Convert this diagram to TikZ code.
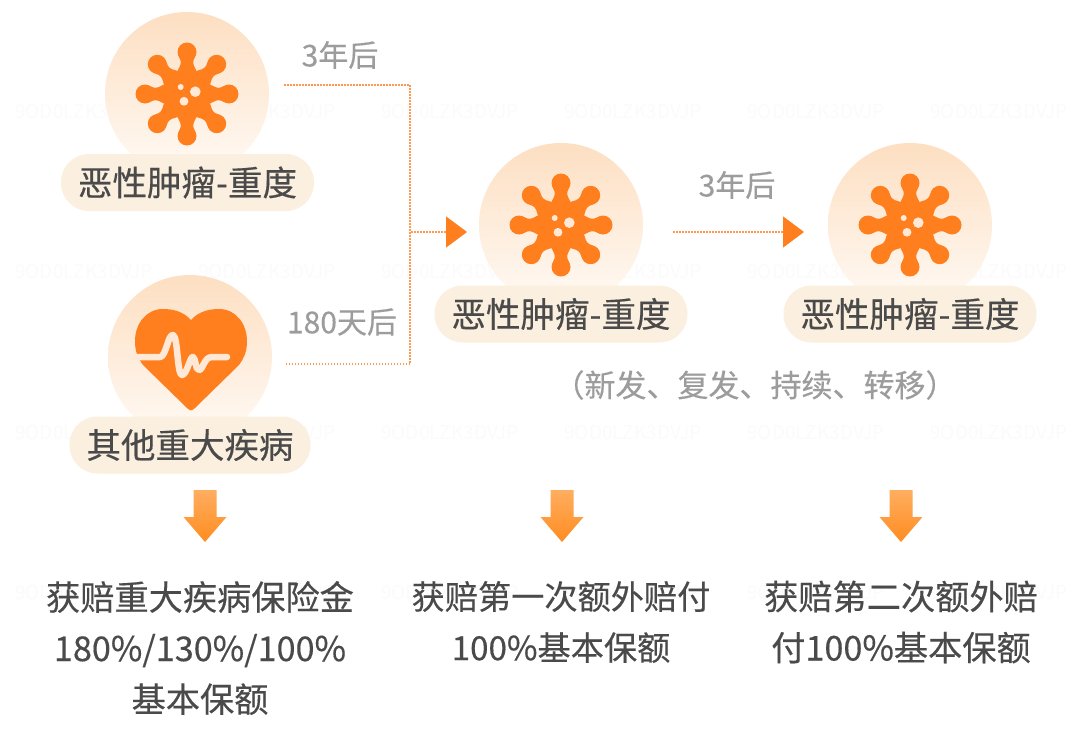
\documentclass[tikz,border=0pt]{standalone}
\usepackage{fontspec}
\setmainfont{Noto Sans CJK SC}[FakeBold=0.35]
\newfontfamily\wmfont{Noto Sans CJK SC}
\usetikzlibrary{arrows.meta}
\definecolor{orangeMain}{HTML}{FF7F1E}
\definecolor{flowLine}{HTML}{FF9A55}
\definecolor{discTop}{HTML}{FDDFC2}
\definecolor{discBot}{HTML}{FFFAF5}
\definecolor{pillFill}{HTML}{FBEFDF}
\definecolor{holeFill}{HTML}{FFE9D6}
\definecolor{textDark}{HTML}{4A4A4A}
\definecolor{textGrey}{HTML}{9C9C9C}
\definecolor{markGrey}{HTML}{FBFBFB}
\definecolor{arrowTop}{HTML}{FFAE60}
\definecolor{arrowBot}{HTML}{FF8C20}
\tikzset{
  x=1pt,y=-1pt,
  disc/.style={circle,minimum size=164pt,inner sep=0pt,top color=discTop,bottom color=discBot,shading angle=0},
  pill/.style={rectangle,rounded corners=28pt,minimum height=57pt,fill=pillFill,text=textDark,font=\fontsize{34.5}{34.5}\selectfont,inner sep=0pt},
  timelabel/.style={text=textGrey,font=\fontsize{30}{30}\selectfont,inner sep=0pt},
  result/.style={text=textDark,align=center,font=\fontsize{34.2}{51}\selectfont,inner sep=0pt},
  flow/.style={draw=flowLine,line width=1.5pt,dash pattern=on 1.5pt off 1.5pt},
  flowtip/.style={-{Triangle[length=21pt,width=31pt,color=orangeMain,fill=orangeMain,sep=0pt]}},
  wmark/.style={text=markGrey,font=\wmfont\fontsize{19}{19}\selectfont,inner sep=0pt},
  pics/virus/.style={code={
    \fill[orangeMain] (0,0) circle (23);
    \foreach \a in {0,45,...,315}{
      \begin{scope}[rotate=\a]
        \fill[orangeMain] (14,-12) .. controls (24,-11) and (27,-6.2) .. (31,-6.2)
          .. controls (33,-6.2) and (34,-6.5) .. (37,-8) -- (37,8)
          .. controls (34,6.5) and (33,6.2) .. (31,6.2)
          .. controls (27,6.2) and (24,11) .. (14,12) -- cycle;
        \fill[orangeMain] (42,0) circle (9.5);
      \end{scope}
    }
    \fill[holeFill] (-6.3,-7) circle (3);
    \fill[holeFill] (8.3,-2.3) circle (5.3);
    \fill[holeFill] (-3,7.3) circle (4.4);
  }},
  pics/bigarrow/.style={code={
    \shade[top color=arrowTop,bottom color=arrowBot] (-11.5,0) -- (11.5,0) -- (11.5,27) -- (21.5,27) -- (0,52) -- (-21.5,27) -- (-11.5,27) -- cycle;
  }},
}
\begin{document}
\begin{tikzpicture}
\useasboundingbox (0,0) rectangle (1080,731);
\fill[white] (0,0) rectangle (1080,731);
% faint watermark
\foreach \wy in {112,272,433,593}{
  \foreach \wx in {84,267,450,633,816,999}{
    \node[wmark] (wm\wx-\wy) at (\wx,\wy) {9OD0LZK3DVJP};
  }
}
% connectors
\coordinate (fromA) at (284,85);
\coordinate (fromB) at (284,364);
\coordinate (cornerA) at (410,85);
\coordinate (cornerB) at (410,364);
\coordinate (hub) at (411,232);
\coordinate (tipC) at (467,232);
\coordinate (startD) at (673,232);
\coordinate (tipD) at (804,232);
\draw[flow] (fromA) -- (cornerA) -- (cornerB) -- (fromB);
\draw[flow,flowtip] (hub) -- (tipC);
\draw[flow,flowtip] (startD) -- (tipD);
% discs
\node[disc] (discA) at (187,94) {};
\node[disc] (discB) at (190,357) {};
\node[disc] (discC) at (561,225) {};
\node[disc] (discD) at (910,225) {};
% icons
\pic at (187,94) {virus};
\pic at (561,225) {virus};
\pic at (910,225) {virus};
\fill[orangeMain] (191,320) .. controls (183,311) and (172,309) .. (163,309)
  .. controls (146,309) and (135,324) .. (135,341)
  .. controls (135,352) and (138,358) .. (143,365) -- (187,408)
  .. controls (190,411) and (192,411) .. (195,408) -- (239,365)
  .. controls (244,358) and (247,352) .. (247,341)
  .. controls (247,324) and (236,309) .. (219,309)
  .. controls (210,309) and (199,311) .. (191,320) -- cycle;
\draw[holeFill,line width=6.5pt,line cap=round,line join=round]
  (137,357) -- (160,357) .. controls (166,357) and (168,334) .. (173,335)
  .. controls (178,336) and (177,375) .. (182,375)
  .. controls (187,375) and (190,356) .. (193,357)
  .. controls (196,358) and (195,370) .. (199,370)
  .. controls (203,370) and (204,357) .. (212,357) -- (227,357);
% pills
\node[pill,minimum width=253pt] (pillA) at (187.5,182.5) {\raisebox{-1pt}{恶性肿瘤-重度}};
\node[pill,minimum width=241pt] (pillB) at (190,445) {\raisebox{-1pt}{其他重大疾病}};
\node[pill,minimum width=253pt] (pillC) at (561,314) {\raisebox{-1pt}{恶性肿瘤-重度}};
\node[pill,minimum width=253pt] (pillD) at (910,314) {\raisebox{-1pt}{恶性肿瘤-重度}};
% labels
\node[timelabel] (lab3a) at (340,55) {3年后};
\node[timelabel] (lab180) at (342,322) {180天后};
\node[timelabel] (lab3b) at (737,185) {3年后};
\node[text=textGrey,font=\fontsize{31}{31}\selectfont,inner sep=0pt] (note) at (755,385) {（新发、复发、持续、转移）};
% big arrows
\pic at (205,490) {bigarrow};
\pic at (562,490) {bigarrow};
\pic at (901,490) {bigarrow};
% results
\node[result] (resA) at (200,648) {获赔重大疾病保险金\\180\%/130\%/100\%\\基本保额};
\node[result,font=\fontsize{33.2}{51}\selectfont] (resB) at (561,622) {获赔第一次额外赔付\\100\%基本保额};
\node[result] (resC) at (901,622) {获赔第二次额外赔\\付100\%基本保额};
\end{tikzpicture}
\end{document}
